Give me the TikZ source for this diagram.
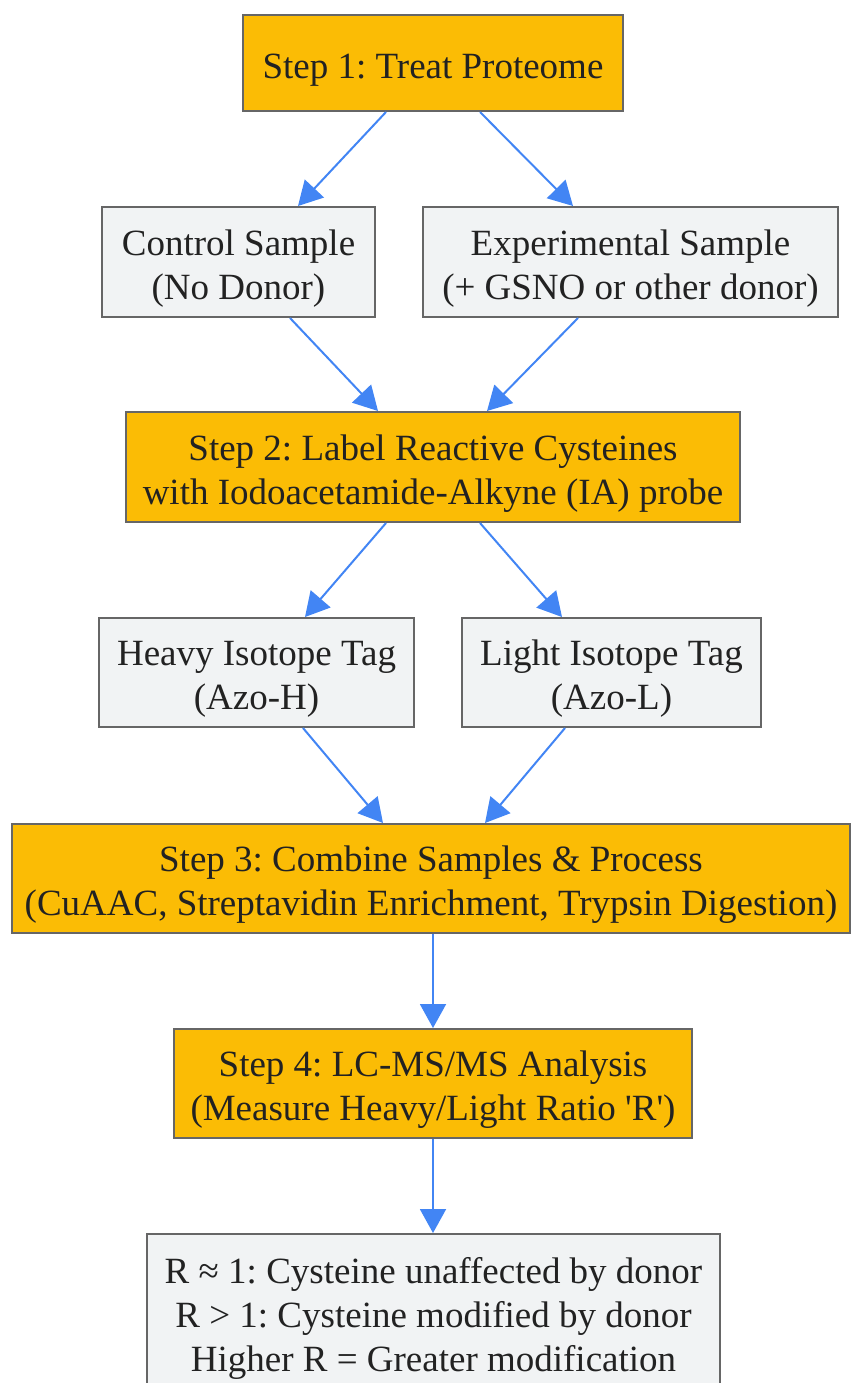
\documentclass[tikz,border=0pt]{standalone}
\usepackage{fontspec}
\setmainfont{Liberation Serif}
\usetikzlibrary{arrows.meta,calc}
\definecolor{Paso}{RGB}{251, 188, 5}
\definecolor{Caja}{RGB}{241, 243, 244}
\definecolor{Borde}{RGB}{102, 102, 102}
\definecolor{Flecha}{RGB}{66, 133, 244}
\definecolor{Texto}{RGB}{34, 34, 34}

\tikzset{
  paso/.style={draw=Borde, line width=2pt, fill=Paso, text=Texto, align=center,
    inner sep=0pt, font=\fontsize{37}{44}\selectfont, text height=82pt},
  caja/.style={draw=Borde, line width=2pt, fill=Caja, text=Texto, align=center,
    inner sep=0pt, font=\fontsize{37}{44}\selectfont, text height=82pt},
  flecha/.style={draw=Flecha, line width=2pt, -{Triangle[length=24pt, width=26pt]}}
}

\begin{document}
\frenchspacing
\begin{tikzpicture}[x=1pt, y=-1pt]
	\useasboundingbox (0,0) rectangle (851,1383);

	%Paso 1
	\node[paso, minimum width=380, minimum height=96, text height=38pt] (paso1) at (433,63) {Step 1: Treat Proteome};

	%Muestras
	\node[caja, minimum width=273, minimum height=110] (control) at (238.5,262) {Control Sample\\(No Donor)};
	\node[caja, minimum width=415, minimum height=110] (exper) at (630.5,262) {Experimental Sample\\(+ GSNO or other donor)};

	%Paso 2
	\node[paso, minimum width=614, minimum height=110] (paso2) at (433,467) {Step 2: Label Reactive Cysteines\\with Iodoacetamide-Alkyne (IA) probe};

	%Marcas isotopicas
	\node[caja, minimum width=315, minimum height=109] (pesado) at (256.5,672.5) {Heavy Isotope Tag\\(Azo-H)};
	\node[caja, minimum width=299, minimum height=109] (ligero) at (611.5,672.5) {Light Isotope Tag\\(Azo-L)};

	%Paso 3
	\node[paso, minimum width=838, minimum height=109] (paso3) at (431,878.5) {Step 3: Combine Samples \& Process\\(CuAAC, Streptavidin Enrichment, Trypsin Digestion)};

	%Paso 4
	\node[paso, minimum width=518, minimum height=109] (paso4) at (433,1083.5) {Step 4: LC-MS/MS Analysis\\(Measure Heavy/Light Ratio \textquotesingle R\textquotesingle)};

	%Resultado (cortado abajo)
	\node[caja, minimum width=573, minimum height=156, text height=126pt] (result) at (433.5,1312) {R ≈ 1: Cysteine unaffected by donor\\R > 1: Cysteine modified by donor\\Higher R = Greater modification};

	%Flechas
	\draw[flecha] ($(paso1.south)+(-47,0)$) -- ($(control.north)+(59.5,0)$);
	\draw[flecha] ($(paso1.south)+(47,0)$) -- ($(exper.north)+(-57.5,0)$);
	\draw[flecha] ($(control.south)+(51.5,0)$) -- ($(paso2.north)+(-55,0)$);
	\draw[flecha] ($(exper.south)+(-52.5,0)$) -- ($(paso2.north)+(54,0)$);
	\draw[flecha] ($(paso2.south)+(-47,0)$) -- ($(pesado.north)+(48.5,0)$);
	\draw[flecha] ($(paso2.south)+(47,0)$) -- ($(ligero.north)+(-49.5,0)$);
	\draw[flecha] ($(pesado.south)+(46.5,0)$) -- ($(paso3.north)+(-48,0)$);
	\draw[flecha] ($(ligero.south)+(-46.5,0)$) -- ($(paso3.north)+(54,0)$);
	\draw[flecha] ($(paso3.south)+(2,0)$) -- (paso4.north);
	\draw[flecha] (paso4.south) -- ($(result.north)+(-0.5,0)$);
\end{tikzpicture}
\end{document}
